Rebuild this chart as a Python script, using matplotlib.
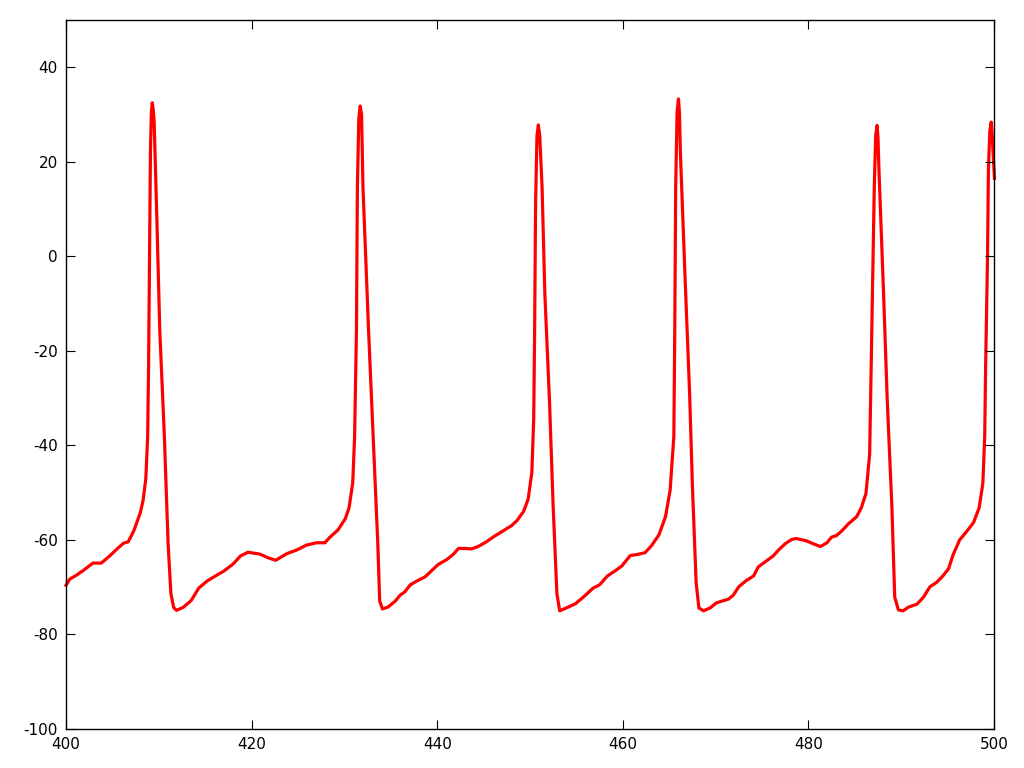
import matplotlib
matplotlib.use("Agg")
import matplotlib.pyplot as plt

# time (ms) and membrane potential (mV)
t = [400.0, 400.4, 401.1, 401.9, 402.9, 403.8, 404.7, 405.5, 406.2, 406.7, 407.3, 408.0, 408.3, 408.6,
     408.8, 408.9, 409.0, 409.1, 409.2, 409.3, 409.4, 409.5, 409.8, 410.1, 410.6, 411.0, 411.3, 411.6,
     411.9, 412.6, 413.5, 414.3, 415.2, 416.2, 417.0, 418.0, 418.8, 419.6, 420.9, 421.8, 422.6, 423.8,
     424.9, 425.9, 427.0, 427.9, 428.4, 429.3, 430.1, 430.5, 430.9, 431.1, 431.3, 431.4, 431.55, 431.7,
     431.85, 432.0, 432.6, 433.1, 433.6, 433.8, 434.1, 434.7, 435.5, 436.0, 436.5, 437.1, 437.8, 438.7,
     439.4, 440.1, 441.0, 441.7, 442.3, 443.0, 443.7, 444.4, 445.3, 446.1, 447.1, 448.0, 448.6, 449.3,
     449.8, 450.2, 450.4, 450.5, 450.6, 450.75, 450.9, 451.05, 451.3, 451.6, 452.1, 452.5, 452.9, 453.2,
     453.9, 454.9, 455.8, 456.8, 457.5, 458.3, 459.2, 459.9, 460.8, 461.5, 462.4, 463.1, 463.9, 464.6,
     465.1, 465.5, 465.6, 465.7, 465.85, 466.0, 466.1, 466.2, 466.7, 467.2, 467.5, 467.9, 468.2, 468.7,
     469.4, 470.1, 471.4, 471.9, 472.5, 473.3, 474.1, 474.6, 475.5, 476.2, 476.8, 477.5, 478.2, 478.7,
     479.8, 480.5, 481.3, 482.0, 482.5, 483.0, 483.6, 484.3, 485.2, 485.7, 486.2, 486.6, 486.7, 486.9,
     487.1, 487.25, 487.4, 487.5, 487.6, 488.1, 488.5, 489.0, 489.3, 489.7, 490.2, 490.8, 491.7, 492.4,
     493.1, 493.8, 494.5, 495.1, 495.6, 496.3, 497.1, 497.8, 498.4, 498.8, 499.0, 499.1, 499.3, 499.4,
     499.55, 499.7, 499.8, 499.9, 500.05]
v = [-69.6, -68.3, -67.5, -66.4, -64.9, -64.9, -63.4, -61.9, -60.7, -60.4, -58.1, -54.3, -51.7, -47.1,
     -38.1, -23.0, -0.3, 22.3, 30.5, 32.5, 31.0, 28.4, 7.3, -15.4, -38.1, -60.7, -71.3, -74.3,
     -74.9, -74.3, -72.8, -70.2, -68.7, -67.5, -66.6, -65.1, -63.4, -62.6, -63.0, -63.8, -64.3, -62.9,
     -62.1, -61.1, -60.6, -60.6, -59.5, -57.9, -55.5, -53.2, -47.9, -38.1, -15.4, 14.8, 29.0, 31.8,
     30.0, 14.7, -15.5, -38.1, -60.8, -72.9, -74.6, -74.2, -72.9, -71.7, -71.0, -69.5, -68.7, -67.8,
     -66.5, -65.2, -64.2, -63.1, -61.8, -61.8, -61.9, -61.4, -60.4, -59.3, -58.1, -57.0, -55.9, -54.0,
     -51.4, -45.7, -34.4, -15.5, 11.0, 25.5, 27.8, 25.5, 14.7, -7.9, -30.6, -53.2, -71.4, -75.0,
     -74.4, -73.5, -72.0, -70.2, -69.5, -67.7, -66.5, -65.5, -63.3, -63.1, -62.7, -61.2, -58.9, -55.1,
     -49.5, -38.1, -15.5, 14.7, 30.5, 33.3, 30.5, 22.3, -4.0, -29.0, -48.5, -69.0, -74.4, -75.0,
     -74.4, -73.3, -72.5, -71.7, -69.9, -68.6, -67.6, -65.7, -64.4, -63.4, -62.1, -60.8, -59.9, -59.7,
     -60.2, -60.8, -61.4, -60.6, -59.4, -59.1, -58.1, -56.6, -55.1, -53.2, -50.2, -41.9, -30.6, -7.9,
     14.7, 25.5, 27.7, 25.0, 18.5, -7.9, -30.6, -53.2, -72.1, -74.8, -75.0, -74.2, -73.6, -72.1,
     -69.9, -69.0, -67.6, -66.1, -63.1, -60.0, -58.1, -56.3, -53.2, -48.0, -38.1, -23.0, -0.4, 18.5,
     26.5, 28.4, 26.0, 22.0, 16.5]

xticks = [400, 420, 440, 460, 480, 500]
yticks = [-100, -80, -60, -40, -20, 0, 20, 40]

fig = plt.figure(figsize=(10.24, 7.68), dpi=100)
ax = fig.add_axes([66 / 1024, 39 / 768, (994 - 66) / 1024, (729 - 20) / 768])
ax.plot(t, v, color="#ff0000", linewidth=2.3, clip_on=False, zorder=1,
        solid_joinstyle="round")
ax.set_xlim(400, 500)
ax.set_ylim(-100, 50)
ax.set_xticks(xticks)
ax.set_yticks(yticks)
ax.set_xticklabels([str(x) for x in xticks])
ax.set_yticklabels([str(y) for y in yticks])
ax.tick_params(direction="in", length=6.5, width=0.8, top=True, right=True,
               labelsize=11, pad=6, colors="black")
for s in ax.spines.values():
    s.set_linewidth(1.0)
    s.set_zorder(3)
fig.savefig("out.png", dpi=100)
